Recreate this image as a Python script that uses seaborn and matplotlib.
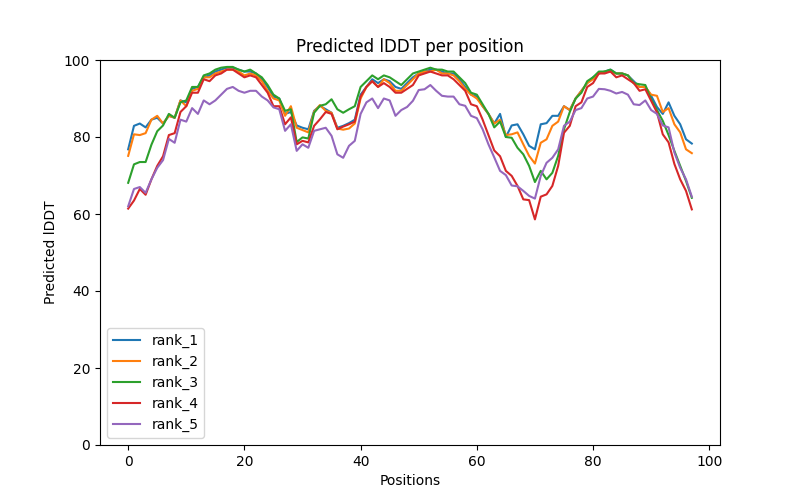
import numpy as np
import pandas as pd
import matplotlib
matplotlib.use("Agg")
import matplotlib.pyplot as plt
import seaborn as sns

# per-residue lDDT for each ranked model
rank_1 = [
    76.8, 82.9, 83.5, 82.5, 84.5, 85.0, 83.5, 85.5, 85.0, 89.5,
    89.0, 92.5, 93.0, 95.5, 96.0, 97.0, 97.5, 98.0, 98.0, 97.5,
    97.0, 97.0, 96.5, 95.0, 93.0, 90.5, 90.0, 86.0, 86.5, 83.0,
    82.4, 82.0, 86.8, 88.1, 87.2, 86.3, 82.4, 82.9, 83.6, 84.5,
    91.0, 93.0, 95.0, 94.0, 95.0, 94.5, 93.0, 92.5, 94.0, 95.5,
    96.5, 97.0, 97.5, 97.5, 97.0, 96.5, 96.5, 95.0, 93.0, 91.0,
    90.5, 88.0, 86.0, 83.5, 86.0, 80.0, 83.0, 83.3, 80.7, 77.7,
    76.8, 83.3, 83.6, 85.5, 85.5, 88.0, 87.0, 90.0, 92.0, 94.0,
    95.5, 96.5, 97.0, 97.5, 96.5, 96.5, 96.0, 94.5, 93.0, 93.0,
    90.7, 87.8, 86.0, 89.0, 85.5, 83.3, 79.4, 78.3,
]
rank_2 = [
    75.1, 80.7, 80.5, 81.0, 84.5, 85.5, 83.5, 85.5, 85.0, 89.5,
    88.0, 92.0, 92.5, 95.5, 95.5, 96.5, 97.0, 97.5, 97.5, 97.0,
    96.0, 96.5, 96.0, 94.5, 92.0, 90.0, 89.5, 85.5, 88.0, 82.4,
    81.8, 81.2, 86.6, 88.3, 86.8, 86.3, 82.2, 81.9, 82.2, 83.5,
    90.0, 93.0, 94.5, 93.0, 95.0, 94.0, 92.0, 92.0, 93.5, 95.0,
    96.5, 97.0, 97.0, 97.5, 96.5, 96.5, 96.0, 94.5, 92.5, 91.0,
    90.0, 88.0, 86.0, 83.5, 84.5, 80.5, 80.7, 81.2, 78.1, 75.1,
    73.1, 78.5, 79.4, 82.9, 84.0, 88.0, 87.0, 90.0, 92.0, 94.0,
    95.0, 96.5, 97.0, 97.0, 96.5, 96.5, 96.0, 94.0, 93.0, 93.0,
    91.0, 90.7, 86.5, 87.5, 83.3, 81.2, 76.8, 75.8,
]
rank_3 = [
    68.1, 72.9, 73.5, 73.5, 78.0, 81.5, 83.0, 86.0, 85.0, 89.0,
    89.5, 93.0, 93.0, 96.0, 96.5, 97.5, 98.0, 98.2, 98.2, 97.5,
    97.0, 97.5, 96.5, 95.5, 93.5, 91.0, 90.0, 86.8, 87.2, 78.7,
    79.9, 79.6, 86.3, 88.1, 88.5, 89.8, 87.2, 86.3, 87.2, 88.0,
    93.0, 94.5, 96.0, 95.0, 96.0, 95.5, 94.5, 93.5, 95.0, 96.5,
    97.0, 97.5, 98.0, 97.5, 97.5, 97.0, 97.0, 95.5, 94.0, 91.5,
    91.0, 88.5, 86.0, 82.5, 84.0, 80.0, 79.8, 77.2, 75.5, 72.5,
    68.3, 71.2, 69.0, 70.7, 75.1, 82.0, 86.5, 90.0, 91.5, 94.5,
    95.5, 97.0, 97.0, 97.5, 96.5, 96.5, 96.0, 94.0, 93.7, 93.5,
    89.8, 87.0, 84.2, 80.5, 76.4, 72.5, 68.6, 64.2,
]
rank_4 = [
    61.4, 63.5, 66.5, 65.0, 69.0, 72.5, 75.0, 80.5, 81.0, 86.5,
    88.0, 91.5, 91.5, 95.0, 94.5, 96.0, 96.5, 97.5, 97.5, 96.5,
    95.5, 96.0, 95.5, 93.5, 91.5, 88.0, 88.0, 83.3, 85.1, 78.1,
    79.0, 78.6, 82.9, 84.6, 86.5, 86.0, 82.0, 82.7, 83.3, 84.0,
    90.5, 93.0, 94.5, 93.0, 94.0, 93.0, 91.5, 91.5, 92.5, 93.5,
    96.0, 96.5, 97.0, 96.5, 96.0, 96.0, 95.0, 93.5, 92.0, 88.5,
    88.0, 84.5, 80.5, 76.5, 75.0, 71.2, 69.9, 67.3, 63.8, 63.6,
    58.6, 64.5, 65.1, 67.3, 72.5, 81.1, 82.9, 88.0, 89.0, 93.0,
    94.0, 96.5, 96.5, 97.0, 95.5, 96.0, 95.0, 94.0, 92.0, 92.4,
    89.4, 86.4, 80.7, 78.6, 73.0, 69.0, 66.0, 61.2,
]
rank_5 = [
    62.0, 66.5, 67.0, 65.5, 69.0, 72.0, 74.0, 79.5, 78.5, 84.5,
    84.0, 87.5, 86.0, 89.5, 88.5, 89.5, 91.0, 92.5, 93.0, 92.0,
    91.5, 92.0, 92.0, 90.5, 89.5, 87.7, 87.2, 81.6, 83.3, 76.4,
    78.1, 77.2, 81.6, 82.0, 82.4, 80.3, 75.5, 74.6, 77.7, 79.0,
    86.0, 89.0, 90.0, 87.5, 90.0, 89.5, 85.5, 87.0, 87.8, 89.4,
    92.2, 92.4, 93.5, 92.0, 90.7, 90.5, 90.5, 88.5, 88.1, 85.5,
    84.9, 82.0, 78.1, 74.7, 71.2, 70.1, 67.4, 67.2, 66.0, 64.7,
    64.0, 69.9, 73.3, 74.6, 76.8, 82.9, 84.0, 87.0, 87.5, 90.0,
    90.5, 92.5, 92.4, 92.0, 91.3, 91.7, 91.0, 88.5, 88.3, 89.5,
    87.0, 86.0, 83.0, 82.5, 76.0, 72.0, 69.0, 64.5,
]

ranks = {"rank_1": rank_1, "rank_2": rank_2, "rank_3": rank_3,
         "rank_4": rank_4, "rank_5": rank_5}

# long-form table for seaborn
frames = []
for name, vals in ranks.items():
    frames.append(pd.DataFrame({"Position": np.arange(len(vals)),
                                "lDDT": vals, "model": name}))
df = pd.concat(frames, ignore_index=True)

fig, ax = plt.subplots(figsize=(8, 5), dpi=100)
sns.lineplot(data=df, x="Position", y="lDDT", hue="model",
             palette="tab10", linewidth=1.5, ax=ax)
ax.set_ylim(0, 100)
ax.set_title("Predicted lDDT per position")
ax.set_xlabel("Positions")
ax.set_ylabel("Predicted lDDT")
ax.legend(loc="lower left")
plt.savefig("out.png")
